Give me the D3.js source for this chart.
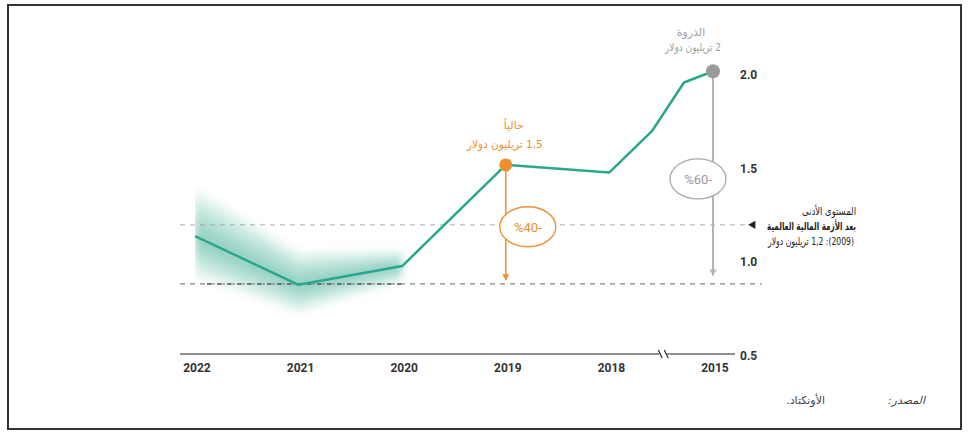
<!DOCTYPE html>
<html><head><meta charset="utf-8">
<script src="https://cdn.jsdelivr.net/npm/d3@7"></script>
<style>
html,body{margin:0;padding:0;background:#fff;}
svg{display:block;}
.num{font-family:"Liberation Sans Narrow","Roboto","DejaVu Sans Condensed",sans-serif;}
.ar{font-family:"DejaVu Sans","Noto Sans",sans-serif;}
</style></head>
<body>
<script>
// ---- data ----
const xTickLabels = ['2022','2021','2020','2019','2018','2015'];
const xTickPos = [0,1,2,3,4,5];
const years = ['2022','2021','2020','2019','2018','2017','2016','2015'];
const xPos = [0,1,2,3,4,4.41,4.72,5];
const values = [1.14,0.88,0.98,1.52,1.48,1.70,1.96,2.02];
const bandPos = [0,1,2];
const bandUpper = [1.40,1.06,1.06];
const bandLower = [0.92,0.73,0.90];
const yTicks = [2.0,1.5,1.0,0.5];
const crisisLevel = 1.2;
const lowLevel = 0.885;
const currentValue = 1.52, currentArrowEnd = 0.905, currentDrop = '%40-';
const peakValue = 2.02, peakArrowEnd = 0.93, peakDrop = '%60-';

const W = 969, H = 432;
const svg = d3.select('body').append('svg').attr('width', W).attr('height', H);

// frame
svg.append('rect').attr('x',8).attr('y',5).attr('width',953).attr('height',424)
  .attr('fill','none').attr('stroke','#333').attr('stroke-width',2);

const x = d3.scaleLinear().domain([0,5]).range([195,713]);
const y = d3.scaleLinear().domain([0.5,2.0]).range([356,75]);

const teal = '#2aa88b', orange = '#f0902c', grayDot = '#9b9b9b';

// defs
const defs = svg.append('defs');
defs.append('filter').attr('id','blur').attr('x','-10%').attr('y','-30%').attr('width','120%').attr('height','160%')
  .append('feGaussianBlur').attr('stdDeviation',3.5);
defs.append('clipPath').attr('id','bandclip').append('rect')
  .attr('x', x(0)).attr('y', 0).attr('width', 400).attr('height', H);

// confidence band (layered for gradient)
const lineAt = i => values[i];
const bandG = svg.append('g').attr('clip-path','url(#bandclip)').append('g').attr('filter','url(#blur)');
const fracs = d3.range(1, 0.05, -0.1);
fracs.forEach(f => {
  const area = d3.area()
    .x((d,i) => x(bandPos[i]))
    .y0((d,i) => y(lineAt(i) - (lineAt(i) - bandLower[i]) * f))
    .y1((d,i) => y(lineAt(i) + (bandUpper[i] - lineAt(i)) * f))
    .curve(d3.curveLinear);
  bandG.append('path').datum(bandPos).attr('d', area)
    .attr('fill', teal).attr('opacity', 0.065);
});

// reference dashed lines
svg.append('line').attr('x1',180).attr('x2',748).attr('y1',y(crisisLevel)).attr('y2',y(crisisLevel))
  .attr('stroke','#aaa').attr('stroke-width',1).attr('stroke-dasharray','5,5');
svg.append('path').attr('d', d3.symbol(d3.symbolTriangle, 30)())
  .attr('transform', `translate(753,${y(crisisLevel)}) rotate(-90)`).attr('fill','#222');
svg.append('line').attr('x1',180).attr('x2',762).attr('y1',y(lowLevel)).attr('y2',y(lowLevel))
  .attr('stroke','#888').attr('stroke-width',1.2).attr('stroke-dasharray','5,5');
svg.append('line').attr('x1',x(0)+12).attr('x2',x(2)).attr('y1',y(lowLevel)).attr('y2',y(lowLevel))
  .attr('stroke','#555').attr('stroke-width',1.5).attr('stroke-dasharray','4,6');

// x axis
const axisY = y(0.5) - 2;
svg.append('line').attr('x1',180).attr('x2',735).attr('y1',axisY).attr('y2',axisY)
  .attr('stroke','#222').attr('stroke-width',1.2);
const bx = (x(4)+x(5))/2 + 2;
svg.append('rect').attr('x',bx-4).attr('y',axisY-3).attr('width',8).attr('height',6).attr('fill','#fff');
[-3,3].forEach(o => svg.append('line').attr('x1',bx+o-2).attr('x2',bx+o+2)
  .attr('y1',axisY-4).attr('y2',axisY+4).attr('stroke','#222').attr('stroke-width',1.2));

svg.append('g').selectAll('text').data(xTickLabels).join('text')
  .attr('class','num').attr('x',(d,i)=>x(xTickPos[i])+2).attr('y',axisY+18)
  .attr('text-anchor','middle').attr('font-size',12).attr('font-weight','bold').attr('fill','#333')
  .text(d=>d);

svg.append('g').selectAll('text').data(yTicks).join('text')
  .attr('class','num').attr('x',740).attr('y',d=>y(d)+4)
  .attr('font-size',12).attr('font-weight','bold').attr('fill','#333')
  .text(d=>d.toFixed(1));

// arrows
function arrow(xv, v0, v1, color, w){
  const x0 = x(xv);
  svg.append('line').attr('x1',x0).attr('x2',x0).attr('y1',y(v0)).attr('y2',y(v1))
    .attr('stroke',color).attr('stroke-width',w);
  svg.append('path').attr('d',`M${x0-3.5},${y(v1)-6} L${x0+3.5},${y(v1)-6} L${x0},${y(v1)} Z`).attr('fill',color);
}
arrow(3, currentValue, currentArrowEnd, orange, 1.5);
arrow(5, peakValue, peakArrowEnd, '#b3b3b3', 2);

// main line
const line = d3.line().x((d,i)=>x(xPos[i])).y(d=>y(d));
svg.append('path').datum(values).attr('d', line).attr('fill','none')
  .attr('stroke',teal).attr('stroke-width',2.5).attr('stroke-linejoin','round');

// ellipses
function ellipse(cx, cv, color, txt, tcolor){
  svg.append('ellipse').attr('cx',cx).attr('cy',y(cv)).attr('rx',28).attr('ry',20)
    .attr('fill','#fff').attr('stroke',color).attr('stroke-width',1.3);
  svg.append('text').attr('class','num').attr('x',cx).attr('y',y(cv)+5).attr('text-anchor','middle')
    .attr('font-size',13).attr('fill',tcolor).text(txt);
}
ellipse(x(3)+22, 1.19, orange, currentDrop, '#e8902f');
ellipse(x(5)-15, 1.445, '#aaa', peakDrop, '#999');

// dots
svg.append('circle').attr('cx',x(3)).attr('cy',y(currentValue)).attr('r',6.5).attr('fill',orange);
svg.append('circle').attr('cx',x(5)).attr('cy',y(peakValue)).attr('r',7).attr('fill',grayDot);

// Arabic (right-to-left) text, squeezed to a target width
// anchor: 'middle' (centered on x) or 'right' (right edge at x)
function arText(tx, ty, str, o){
  const t = svg.append('text').attr('class','ar')
    .attr('x', tx).attr('y', ty)
    .attr('font-size', o.size || 11).attr('fill', o.fill || '#333')
    .attr('font-weight', o.weight || 'normal')
    .attr('direction','rtl').style('direction','rtl')
    .attr('text-anchor', o.anchor === 'right' ? 'start' : 'middle')
    .text(str);
  if (o.italic) t.attr('font-style','italic');
  if (o.width) {
    const w = t.node().getComputedTextLength();
    if (w > o.width) t.attr('textLength', o.width).attr('lengthAdjust','spacingAndGlyphs');
  }
  return t;
}

arText(x(5)-22, 36, 'الذروة', {fill:'#a0a0a0', width:36});
arText(x(5)-20, 51, '2 تريليون دولار', {fill:'#a0a0a0', width:56});
arText(x(3)+8, 129, 'حالياً', {fill:orange, width:26});
arText(x(3)-1, 148, '1,5 تريليون دولار', {fill:orange, width:76});

arText(856, 215, 'المستوى الأدنى', {anchor:'right', fill:'#222', width:54});
arText(856, 230, 'بعد الأزمة المالية العالمية', {anchor:'right', fill:'#222', weight:'bold', width:89});
arText(854, 245, '(2009): 1,2 تريليون دولار', {anchor:'right', fill:'#222', width:86});

arText(925, 404, 'المصدر:', {anchor:'right', fill:'#444', italic:true, width:46});
arText(825, 404, 'الأونكتاد.', {anchor:'right', fill:'#444', width:50});
</script>
</body></html>
